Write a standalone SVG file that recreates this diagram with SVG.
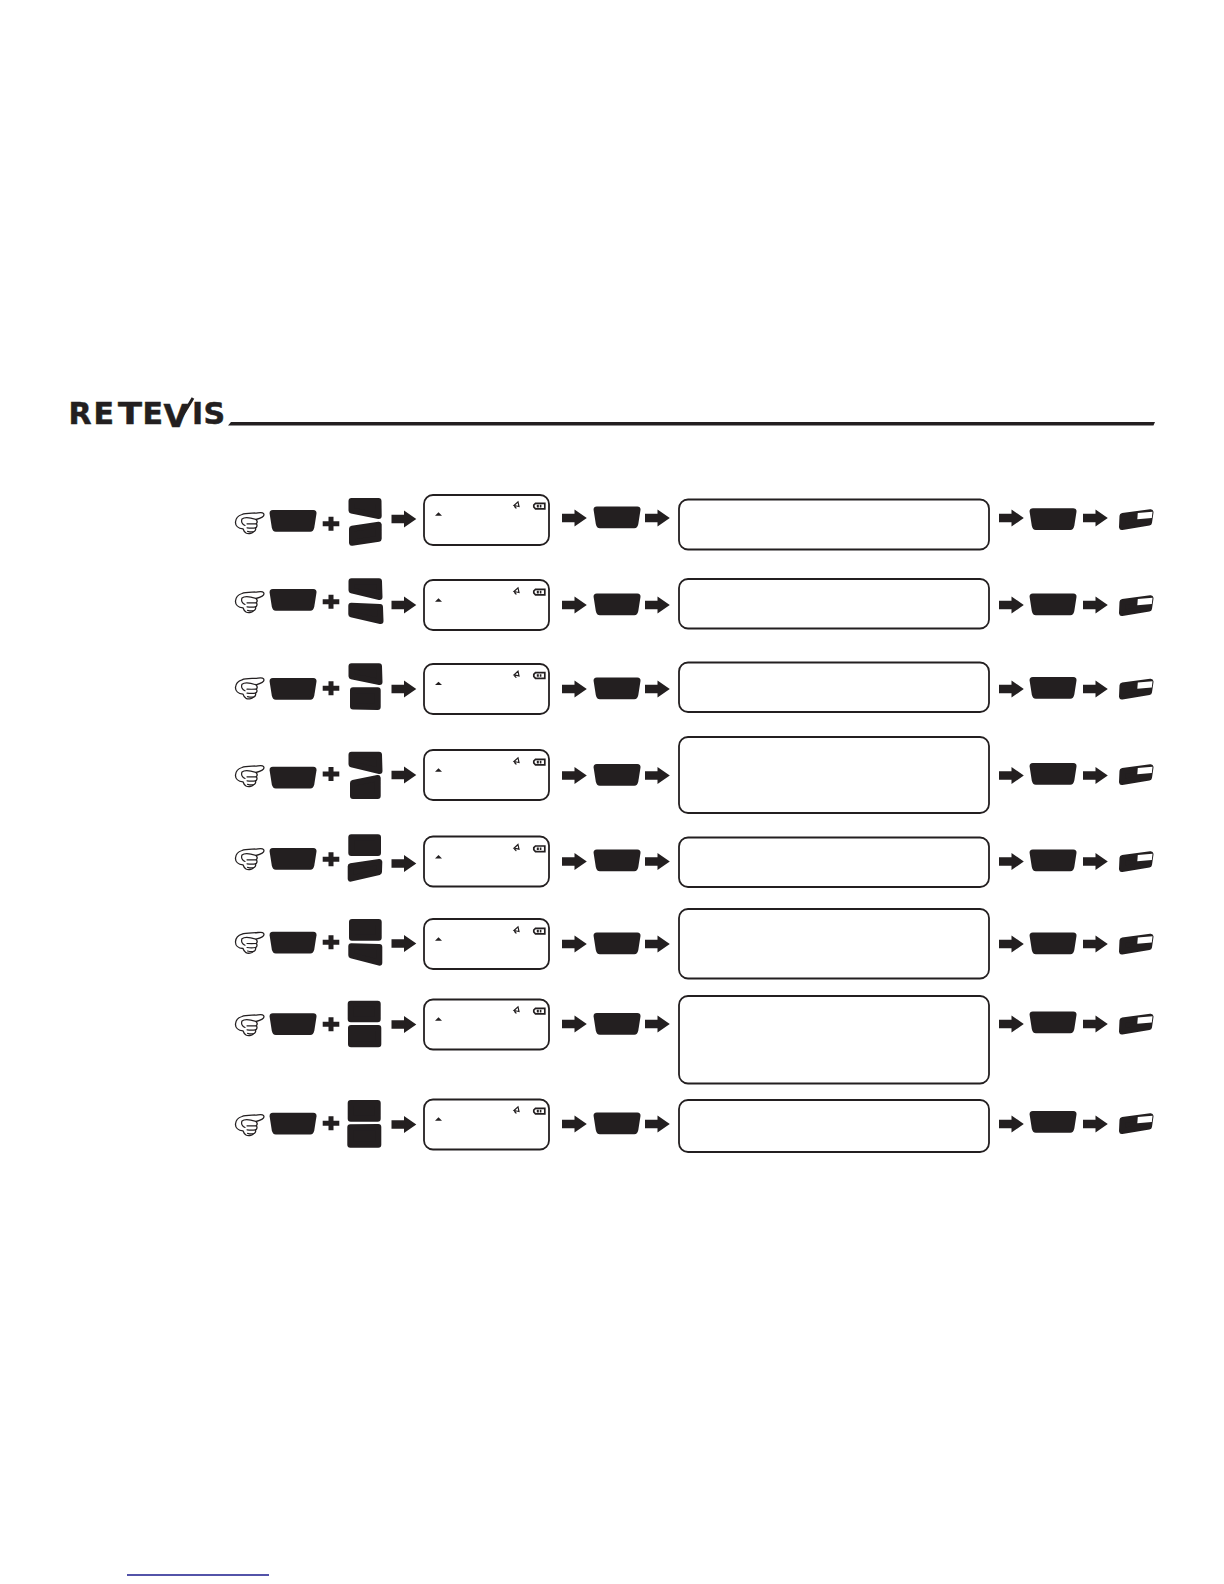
<svg xmlns="http://www.w3.org/2000/svg" width="1224" height="1584" viewBox="0 0 1224 1584">
<style>
.k{fill:#231f20;stroke:#231f20;stroke-width:6;stroke-linejoin:round}
.f{fill:#231f20}
.box{fill:#fff;stroke:#231f20;stroke-width:1.8}
.thin{fill:#fff;stroke:#231f20;stroke-width:1.300;stroke-linejoin:round;stroke-linecap:round}
.none{fill:none;stroke:#231f20;stroke-width:1.200;stroke-linecap:round}
.logo{font-family:"DejaVu Sans",Verdana,sans-serif;font-weight:700;font-size:30px;fill:#231f20;stroke:#231f20;stroke-width:.5}
</style>
<defs>
<path id="wide" class="f" d="M3.500 0H44Q47.500 0 47.200 3.500L45 17.500Q44.200 21.700 41 21.700H6.500Q3.300 21.700 2.500 17.500L.3 3.500Q0 0 3.500 0Z"/>
<path id="arrow" class="f" d="M0 -4.300H12.500V-8.500L24.800 0L12.500 8.500V4.300H0Z"/>
<path id="plus" class="f" d="M5.800 -7H10.800V-2.500H16.600V2.500H10.800V7H5.800V2.500H0V-2.500H5.800Z"/>
<g id="small"><path class="k" d="M4.500 7L32.500 3.200L31 13.500L4 18Z"/><path fill="#fff" d="M19.800 4L34.500 2.800L33.800 9L19.300 10.200Z"/></g>
<g id="hand">
<path class="thin" d="M7 2.500C11 .5 18 1.500 23 .8C27 .2 29 .8 29 2.800C29 5.500 25 6.500 21 7.500C22.500 9 22.500 10.500 21.300 11.800C22.500 13 22 15.300 20.500 15.800C21 17.500 20.300 19.500 18.300 19.800C17 21.700 13 22 11 21C9.500 20 8.500 18.500 8 16.800C3 16.500 .3 13.500 .5 10C.8 6.500 3.500 3.500 7 2.500Z"/>
<path class="none" d="M7 7C10 4.500 15 5.500 21 7.500M7 7C5.800 10 7.500 12.500 10 13.500M12 11.800C15 12 18 12 21.300 11.800M12 15.800C15 16.200 18 16.200 20.500 15.800M12.500 19.300C14.500 19.800 16.500 19.900 18.300 19.800"/>
</g>
<g id="icons">
<path class="f" d="M435 515.700L438.500 512.300L442 515.700Z"/>
<path class="none" d="M518 501.800L519 506.500L514 505.500ZM514.500 506.500L516 508"/>
<path fill="none" stroke="#231f20" stroke-width="1.700" d="M535.500 503.300H544.800V508.900H535.500L533.800 507V505Z"/>
<path class="f" d="M536.800 504.800H538.800V507.400H536.800ZM539.800 504.800H541.400V507.400H539.800Z"/>
</g>
</defs>
<rect width="1224" height="1584" fill="#fff"/>

<g id="logo">
<text class="logo" y="424.300"><tspan x="68.500">R</tspan><tspan x="93.500">E</tspan></text>
<text class="logo" x="118" y="424.300" textLength="24" lengthAdjust="spacingAndGlyphs">T</text>
<text class="logo" x="142.500" y="424.300">E</text>
<text class="logo" x="163.500" y="427" style="font-size:32px">V</text>
<path d="M176 426L193 398" stroke="#231f20" stroke-width="3" fill="none"/>
<text class="logo" y="424.300"><tspan x="192">I</tspan><tspan x="203.500">S</tspan></text>
<path class="f" d="M231 422H1155L1153.500 425.500H228Z"/>
</g>
<path id="bottom-rule" d="M127 1575H269" stroke="#1a1a8c" stroke-width="1.300" fill="none"/>

<g id="row1">
<use href="#hand" x="235" y="512"/><use href="#wide" x="269.300" y="510"/><use href="#plus" x="322.700" y="523.700"/>
<path class="k" d="M351.500 501H378.500L378.700 516L351.500 510.500Z"/>
<path class="k" d="M352 528.700L378.700 524.700V538.700L352 542.700Z"/>
<use href="#arrow" x="391.500" y="519"/>
<rect class="box" x="424" y="495" width="125" height="50" rx="9"/>
<use href="#icons"/>
<use href="#arrow" x="562" y="518"/><use href="#wide" x="593.300" y="506.500"/><use href="#arrow" x="645" y="518"/>
<rect class="box" x="679" y="499.500" width="310" height="50" rx="9"/>
<use href="#arrow" x="999" y="518"/><use href="#wide" x="1029.300" y="508.300"/><use href="#arrow" x="1083" y="518"/><use href="#small" x="1118" y="509"/>
</g>

<g id="row2">
<use href="#hand" x="235" y="591"/><use href="#wide" x="269.300" y="589"/><use href="#plus" x="322.700" y="601.700"/>
<path class="k" d="M351.500 581.300H379L379.500 597L351.500 590.300Z"/>
<path class="k" d="M351.300 605.700L380 607L380.500 621L351.300 614.300Z"/>
<use href="#arrow" x="391.500" y="605"/>
<rect class="box" x="424" y="580" width="125" height="50" rx="9"/>
<use href="#icons" y="86"/>
<use href="#arrow" x="562" y="605"/><use href="#wide" x="593.300" y="593.500"/><use href="#arrow" x="645" y="605"/>
<rect class="box" x="679" y="579" width="310" height="49.500" rx="9"/>
<use href="#arrow" x="999" y="605"/><use href="#wide" x="1029.300" y="593.500"/><use href="#arrow" x="1083" y="605"/><use href="#small" x="1118" y="595"/>
</g>

<g id="row3">
<use href="#hand" x="235" y="677.300"/><use href="#wide" x="269.300" y="678"/><use href="#plus" x="322.700" y="688.300"/>
<path class="k" d="M351.500 666.300H379L379.500 682L351.500 676.300Z"/>
<path class="k" d="M353 690.300H377.700V707L353 706.500Z"/>
<use href="#arrow" x="391.500" y="689"/>
<rect class="box" x="424" y="664" width="125" height="50" rx="9"/>
<use href="#icons" y="169.400"/>
<use href="#arrow" x="562" y="689"/><use href="#wide" x="593.300" y="677.500"/><use href="#arrow" x="645" y="689"/>
<rect class="box" x="679" y="662.500" width="310" height="49.500" rx="9"/>
<use href="#arrow" x="999" y="689"/><use href="#wide" x="1029.300" y="677"/><use href="#arrow" x="1083" y="689"/><use href="#small" x="1118" y="678.500"/>
</g>

<g id="row4">
<use href="#hand" x="235" y="765"/><use href="#wide" x="269.300" y="766.700"/><use href="#plus" x="322.700" y="774"/>
<path class="k" d="M351.500 754.700H379L379.500 771L351.500 764.300Z"/>
<path class="k" d="M353 783L377.700 778V796H353Z"/>
<use href="#arrow" x="391.500" y="775"/>
<rect class="box" x="424" y="750" width="125" height="50" rx="9"/>
<use href="#icons" y="256"/>
<use href="#arrow" x="562" y="775.500"/><use href="#wide" x="593.300" y="764"/><use href="#arrow" x="645" y="775.500"/>
<rect class="box" x="679" y="737" width="310" height="76" rx="9"/>
<use href="#arrow" x="999" y="775.500"/><use href="#wide" x="1029.300" y="763"/><use href="#arrow" x="1083" y="775.500"/><use href="#small" x="1118" y="764"/>
</g>

<g id="row5">
<use href="#hand" x="235" y="848"/><use href="#wide" x="269.300" y="848"/><use href="#plus" x="322.700" y="859.300"/>
<path class="k" d="M351.300 837.300H378V853H351.300Z"/>
<path class="k" d="M350.700 866.300L379.300 862L379 872L350.700 878.700Z"/>
<use href="#arrow" x="391.500" y="863.500"/>
<rect class="box" x="424" y="836.500" width="125" height="50" rx="9"/>
<use href="#icons" y="342.700"/>
<use href="#arrow" x="562" y="861.500"/><use href="#wide" x="593.300" y="849.500"/><use href="#arrow" x="645" y="861.500"/>
<rect class="box" x="679" y="837.500" width="310" height="49.500" rx="9"/>
<use href="#arrow" x="999" y="861.500"/><use href="#wide" x="1029.300" y="849.500"/><use href="#arrow" x="1083" y="861.500"/><use href="#small" x="1118" y="851"/>
</g>

<g id="row6">
<use href="#hand" x="235" y="931.700"/><use href="#wide" x="269.300" y="931.700"/><use href="#plus" x="322.700" y="942.300"/>
<path class="k" d="M352 922H378.700V937.700H352Z"/>
<path class="k" d="M351.300 946.300L379.300 947V962.700L351.300 955.300Z"/>
<use href="#arrow" x="391.500" y="943.500"/>
<rect class="box" x="424" y="919" width="125" height="50" rx="9"/>
<use href="#icons" y="425"/>
<use href="#arrow" x="562" y="944"/><use href="#wide" x="593.300" y="932.500"/><use href="#arrow" x="645" y="944"/>
<rect class="box" x="679" y="909" width="310" height="69.500" rx="9"/>
<use href="#arrow" x="999" y="944"/><use href="#wide" x="1029.300" y="932.500"/><use href="#arrow" x="1083" y="944"/><use href="#small" x="1118" y="933.500"/>
</g>

<g id="row7">
<use href="#hand" x="235" y="1014"/><use href="#wide" x="269.300" y="1013.300"/><use href="#plus" x="322.700" y="1024.300"/>
<path class="k" d="M350.700 1003.700H377.700V1019.300H350.700Z"/>
<path class="k" d="M351 1028H378.300V1044.300H351Z"/>
<use href="#arrow" x="391.500" y="1024.500"/>
<rect class="box" x="424" y="999.500" width="125" height="50" rx="9"/>
<use href="#icons" y="505"/>
<use href="#arrow" x="562" y="1024"/><use href="#wide" x="593.300" y="1013"/><use href="#arrow" x="645" y="1024"/>
<rect class="box" x="679" y="996" width="310" height="87.500" rx="9"/>
<use href="#arrow" x="999" y="1024"/><use href="#wide" x="1029.300" y="1011.500"/><use href="#arrow" x="1083" y="1024"/><use href="#small" x="1118" y="1013.500"/>
</g>

<g id="row8">
<use href="#hand" x="235" y="1114"/><use href="#wide" x="269.300" y="1112.700"/><use href="#plus" x="322.700" y="1123.300"/>
<path class="k" d="M350.700 1103H377.700V1118.700H350.700Z"/>
<path class="k" d="M350.300 1127.300L378.300 1127V1144.700H350.300Z"/>
<use href="#arrow" x="391.500" y="1124.500"/>
<rect class="box" x="424" y="1099.500" width="125" height="50" rx="9"/>
<use href="#icons" y="605"/>
<use href="#arrow" x="562" y="1124"/><use href="#wide" x="593.300" y="1112.500"/><use href="#arrow" x="645" y="1124"/>
<rect class="box" x="679" y="1100" width="310" height="52" rx="9"/>
<use href="#arrow" x="999" y="1124"/><use href="#wide" x="1029.300" y="1111"/><use href="#arrow" x="1083" y="1124"/><use href="#small" x="1118" y="1113"/>
</g>
</svg>
